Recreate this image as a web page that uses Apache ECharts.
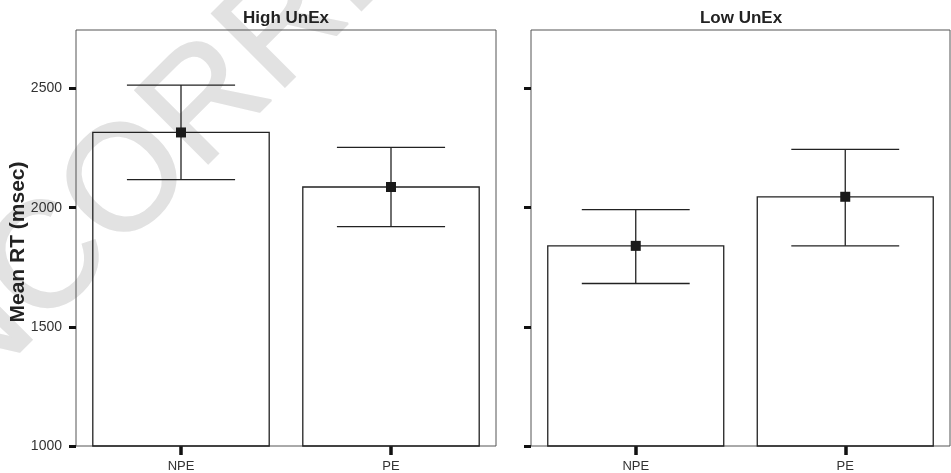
<!DOCTYPE html>
<html>
<head>
<meta charset="utf-8">
<script src="https://cdn.jsdelivr.net/npm/echarts@6/dist/echarts.min.js"></script>
<style>
html,body{margin:0;padding:0;background:#fff;}
#chart{width:951px;height:473px;}
</style>
</head>
<body>
<div id="chart"></div>
<script>
// ---- data ----
const categories = ['NPE', 'PE'];
const panelTitles = ['High UnEx', 'Low UnEx'];
const highMean  = [2316, 2087];
const highUpper = [2515, 2253];
const highLower = [2118, 1921];
const lowMean   = [1840, 2046];
const lowUpper  = [1992, 2245];
const lowLower  = [1682, 1840];
const yTicks = [1000, 1500, 2000, 2500];
const yMin = 1000;
const yMax = 2746;
const yAxisTitle = 'Mean RT (msec)';
const watermark = 'UNCORRECTED PROOF';

// ---- helpers ----
const FONT = 'Liberation Sans, Arial, Helvetica, sans-serif';
const DARK = '#222';

function barRender(params, api) {
  const idx = api.value(0);
  const v = api.value(1);
  const top = api.coord([idx, v]);
  const base = api.coord([idx, yMin]);
  const band = api.size([1, 0])[0];
  const w = band * 0.84;
  return {
    type: 'rect',
    shape: { x: top[0] - w / 2, y: top[1], width: w, height: base[1] - top[1] },
    style: { fill: 'rgba(0,0,0,0)', stroke: DARK, lineWidth: 1.3 }
  };
}
function errRender(params, api) {
  const idx = api.value(0);
  const lo = api.coord([idx, api.value(1)]);
  const hi = api.coord([idx, api.value(2)]);
  const band = api.size([1, 0])[0];
  const hw = band * 0.515 / 2;
  const st = { stroke: DARK, lineWidth: 1.3 };
  return {
    type: 'group',
    children: [
      { type: 'line', shape: { x1: hi[0], y1: hi[1], x2: lo[0], y2: lo[1] }, style: st },
      { type: 'line', shape: { x1: hi[0] - hw, y1: hi[1], x2: hi[0] + hw, y2: hi[1] }, style: st },
      { type: 'line', shape: { x1: lo[0] - hw, y1: lo[1], x2: lo[0] + hw, y2: lo[1] }, style: st }
    ]
  };
}

function makeSeries(gi, means, lower, upper) {
  return [
    {
      type: 'custom', xAxisIndex: gi, yAxisIndex: gi, z: 3, clip: false,
      renderItem: barRender,
      data: means.map((m, i) => [i, m])
    },
    {
      type: 'custom', xAxisIndex: gi, yAxisIndex: gi, z: 4, clip: false,
      renderItem: errRender,
      data: means.map((m, i) => [i, lower[i], upper[i]])
    },
    {
      type: 'scatter', xAxisIndex: gi, yAxisIndex: gi, z: 5,
      symbol: 'rect', symbolSize: 10,
      itemStyle: { color: '#1a1a1a', opacity: 1 },
      data: means.map((m, i) => [i, m])
    }
  ];
}

function xAxis(gi) {
  return {
    type: 'category', gridIndex: gi, data: categories,
    axisLine: { show: false },
    axisTick: { show: true, alignWithLabel: true, length: 9, lineStyle: { color: '#111', width: 3.5 } },
    axisLabel: { color: '#333', fontSize: 13, fontFamily: FONT, margin: 14 },
    splitLine: { show: false }
  };
}
function yAxis(gi, showLabels) {
  return {
    type: 'value', gridIndex: gi, min: yMin, max: yMax, interval: 500,
    axisLine: { show: false },
    axisTick: { show: true, length: 7, customValues: yTicks, lineStyle: { color: '#111', width: 3 } },
    axisLabel: {
      show: showLabels, customValues: yTicks, color: '#333', fontSize: 14, fontFamily: FONT, margin: 14,
      formatter: v => String(v)
    },
    splitLine: { show: false }
  };
}

const chart = echarts.init(document.getElementById('chart'), null, { renderer: 'canvas' });
chart.setOption({
  backgroundColor: '#fff',
  animation: false,
  grid: [
    { left: 76, right: 455, top: 30, bottom: 26, show: true, borderColor: '#555', borderWidth: 1, backgroundColor: 'rgba(0,0,0,0)' },
    { left: 531, right: 1, top: 30, bottom: 26, show: true, borderColor: '#555', borderWidth: 1, backgroundColor: 'rgba(0,0,0,0)' }
  ],
  xAxis: [xAxis(0), xAxis(1)],
  yAxis: [yAxis(0, true), yAxis(1, false)],
  graphic: [
    {
      type: 'text', z: -10, silent: true,
      x: -142, y: 455, rotation: Math.PI / 4,
      style: { text: watermark, fill: '#e2e2e2', stroke: '#e2e2e2', lineWidth: 2, font: '150px ' + FONT, textAlign: 'left', textVerticalAlign: 'middle' }
    },
    {
      type: 'text', x: 286, y: 18,
      style: { text: panelTitles[0], fill: DARK, font: 'bold 17px ' + FONT, textAlign: 'center', textVerticalAlign: 'middle' }
    },
    {
      type: 'text', x: 741, y: 18,
      style: { text: panelTitles[1], fill: DARK, font: 'bold 17px ' + FONT, textAlign: 'center', textVerticalAlign: 'middle' }
    },
    {
      type: 'text', x: 18, y: 242, rotation: Math.PI / 2,
      style: { text: yAxisTitle, fill: DARK, font: 'bold 21px ' + FONT, textAlign: 'center', textVerticalAlign: 'middle' }
    }
  ],
  series: [].concat(
    makeSeries(0, highMean, highLower, highUpper),
    makeSeries(1, lowMean, lowLower, lowUpper)
  )
});
</script>
</body>
</html>
